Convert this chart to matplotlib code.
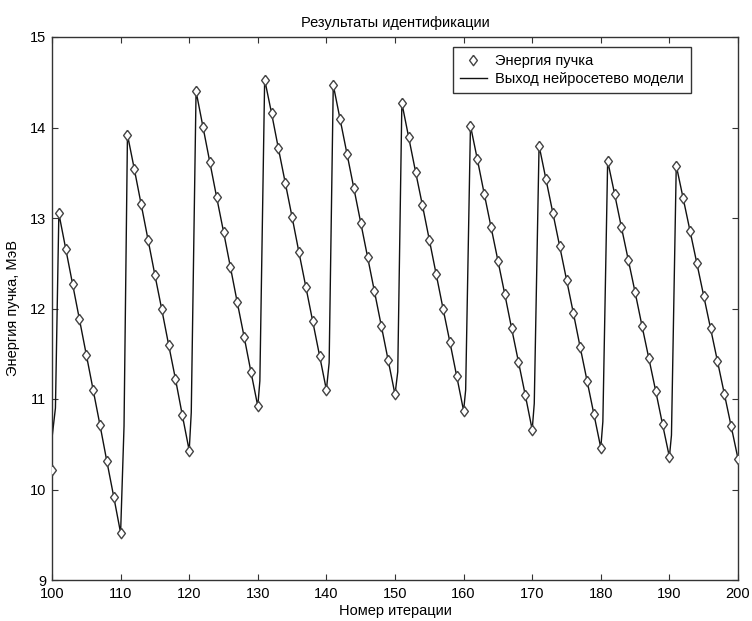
import numpy as np
import matplotlib
matplotlib.use("Agg")
import matplotlib.pyplot as plt

# ── data ───────────────────────────────────────────────────────────────────
iterations = list(range(100, 201))

beam_energy = [
    10.22,
    13.05, 12.66, 12.27, 11.88, 11.49, 11.10, 10.71, 10.31, 9.92, 9.52,
    13.92, 13.54, 13.15, 12.76, 12.37, 11.99, 11.60, 11.22, 10.82, 10.43,
    14.40, 14.01, 13.62, 13.23, 12.85, 12.46, 12.07, 11.69, 11.30, 10.92,
    14.53, 14.16, 13.77, 13.39, 13.01, 12.62, 12.24, 11.86, 11.48, 11.10,
    14.47, 14.09, 13.71, 13.33, 12.95, 12.57, 12.19, 11.81, 11.43, 11.05,
    14.27, 13.89, 13.51, 13.14, 12.76, 12.38, 12.00, 11.63, 11.25, 10.87,
    14.02, 13.65, 13.27, 12.90, 12.53, 12.16, 11.78, 11.41, 11.04, 10.66,
    13.80, 13.43, 13.06, 12.69, 12.32, 11.95, 11.57, 11.20, 10.83, 10.46,
    13.63, 13.27, 12.90, 12.54, 12.18, 11.81, 11.45, 11.09, 10.72, 10.36,
    13.58, 13.22, 12.86, 12.50, 12.14, 11.78, 11.42, 11.06, 10.70, 10.34,
]

# network output: same as measured except the first sample,
# plus the steep rise points seen between trough and next peak
model_start = 10.57
jump_x = [100.5, 110.5, 120.3, 130.3, 140.4, 150.4, 160.3, 170.3, 180.3, 190.3]
jump_y = [10.90, 10.70, 10.85, 11.20, 11.40, 11.30, 11.10, 10.95, 10.75, 10.60]

xticks = list(range(100, 201, 10))
yticks = list(range(9, 16))

# ── build model line ───────────────────────────────────────────────────────
model_x = np.array(iterations + jump_x, dtype=float)
model_y = np.array([model_start] + beam_energy[1:] + jump_y, dtype=float)
order = np.argsort(model_x)
model_x, model_y = model_x[order], model_y[order]

# matlab-ish diamond, a bit taller than wide
diamond = [(0, 1), (0.75, 0), (0, -1), (-0.75, 0), (0, 1)]

# ── plot ───────────────────────────────────────────────────────────────────
plt.rcParams["font.family"] = ["Liberation Sans", "DejaVu Sans"]

fig = plt.figure(figsize=(7.52, 6.21), dpi=100)
ax = fig.add_axes([52 / 752, 1 - 580 / 621, 686 / 752, 543 / 621])

ax.plot(iterations, beam_energy, ls="none", marker=diamond, ms=7.5,
        mfc="white", mec="#444444", mew=1.0, label="Энергия пучка", zorder=3)
ax.plot(model_x, model_y, color="#111111", lw=1.0,
        label="Выход нейросетево модели", zorder=2)

ax.set_xlim(100, 200)
ax.set_ylim(9, 15)
ax.set_xticks(xticks)
ax.set_yticks(yticks)
ax.tick_params(direction="in", top=True, right=True, length=4.5,
               labelsize=10.5, color="#333333")
ax.tick_params(axis="x", pad=5)
ax.tick_params(axis="y", pad=4)
for sp in ax.spines.values():
    sp.set_linewidth(1.0)
    sp.set_color("#333333")

ax.set_title("Результаты идентификации", fontsize=10.5, pad=7)
ax.set_xlabel("Номер итерации", fontsize=10.5, labelpad=2)
ax.set_ylabel("Энергия пучка, МэВ", fontsize=10.5, labelpad=7)

leg = ax.legend(loc="upper right", bbox_to_anchor=(0.9315, 0.9816),
                fancybox=False, framealpha=1, edgecolor="#333333",
                fontsize=10.5, borderpad=0.5, labelspacing=0.25,
                handlelength=1.85, handletextpad=0.55, borderaxespad=0)
leg.get_frame().set_linewidth(1.0)

fig.savefig("out.png", dpi=100)
